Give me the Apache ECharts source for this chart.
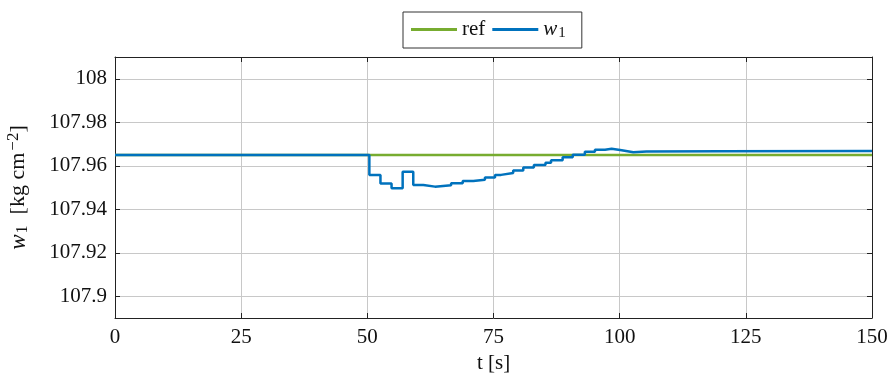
<!DOCTYPE html>
<html><head><meta charset="utf-8">
<script src="https://cdn.jsdelivr.net/npm/echarts@6/dist/echarts.min.js"></script>
<style>html,body{margin:0;padding:0;background:#fff}#c{width:890px;height:375px}</style>
</head><body><div id="c"></div>
<script>
const times = [0, 50.4, 52.6, 54.8, 57.0, 59.1, 61.1, 63.4, 66.6, 68.9, 71.0, 73.3, 75.3, 76.5, 78.9, 80.9, 83.0, 85.3, 86.4, 88.7, 90.7, 93.1, 95.1, 97.1, 98.4, 100.4, 102.7, 105.3, 120.2, 150];
const w1 = [107.965, 107.9558, 107.9518, 107.9496, 107.9572, 107.9512, 107.9504, 107.9510, 107.9520, 107.9530, 107.9536, 107.9546, 107.9558, 107.9567, 107.9578, 107.9592, 107.9603, 107.9614, 107.9625, 107.9639, 107.9651, 107.9664, 107.9674, 107.9678, 107.9671, 107.9662, 107.9665, 107.9667, 107.9668, 107.9668];
const refTimes = [0, 150];
const refValues = [107.965, 107.965];
const yTicks = [107.9, 107.92, 107.94, 107.96, 107.98, 108];
const xTicks = [0, 25, 50, 75, 100, 125, 150];

const FONT = 'Liberation Serif';
const FS = 21;
const chart = echarts.init(document.getElementById('c'));
const axisCommon = {
  axisLine: {show: true, onZero: false, lineStyle: {color: '#222', width: 1}},
  axisTick: {show: true, inside: true, length: 5, lineStyle: {color: '#222'}},
};
chart.setOption({
  animation: false,
  backgroundColor: '#fff',
  grid: {left: 115, right: 18, top: 57, bottom: 57, outerBoundsMode: 'none', containLabel: false},
  legend: {
    left: 403, top: 12, orient: 'horizontal',
    borderColor: '#333', borderWidth: 1, padding: [7, 16, 7, 8],
    itemWidth: 46, itemHeight: 3, itemGap: 7,
    icon: 'rect',
    textStyle: {fontFamily: FONT, fontSize: FS, color: '#111',
      rich: {i: {fontFamily: FONT, fontStyle: 'italic', fontSize: FS}, s: {fontFamily: FONT, fontSize: 15, padding: [8, 0, 0, 1]}}},
    formatter: function (n) { return n === 'w1' ? '{i|w}{s|1}' : n; },
    data: ['ref', 'w1']
  },
  xAxis: [{
    type: 'value', min: 0, max: 150, interval: 25, position: 'bottom',
    ...axisCommon,
    axisLabel: {fontFamily: FONT, fontSize: FS, color: '#111', margin: 9},
    splitLine: {show: true, lineStyle: {color: '#c8c8c8', width: 1}},
    name: 't [s]', nameLocation: 'middle', nameGap: 33,
    nameTextStyle: {fontFamily: FONT, fontSize: FS, color: '#111'}
  }, {
    type: 'value', min: 0, max: 150, interval: 25, position: 'top',
    ...axisCommon, axisLabel: {show: false}, splitLine: {show: false}
  }],
  yAxis: [{
    type: 'value', min: 107.89, max: 108.01, position: 'left',
    ...axisCommon,
    axisTick: {show: true, inside: true, length: 5, lineStyle: {color: '#222'}, customValues: yTicks},
    axisLabel: {fontFamily: FONT, fontSize: FS, color: '#111', margin: 8, customValues: yTicks,
      formatter: v => String(+v.toFixed(2))},
    splitLine: {show: true, lineStyle: {color: '#c8c8c8', width: 1}},
    name: '{i|w}{s|1}  [kg cm{p|−2}]', nameLocation: 'middle', nameGap: 83,
    nameTextStyle: {fontFamily: FONT, fontSize: 22, color: '#111',
      rich: {i: {fontFamily: FONT, fontStyle: 'italic', fontSize: 23}, s: {fontFamily: FONT, fontSize: 16, padding: [9, 0, 0, 1]},
             p: {fontFamily: FONT, fontSize: 17, padding: [0, 0, 10, 2]}}}
  }, {
    type: 'value', min: 107.89, max: 108.01, position: 'right',
    ...axisCommon,
    axisTick: {show: true, inside: true, length: 5, lineStyle: {color: '#222'}, customValues: yTicks},
    axisLabel: {show: false}, splitLine: {show: false}
  }],
  series: [{
    name: 'ref', type: 'line', showSymbol: false, symbol: 'none',
    data: refTimes.map((t, i) => [t, refValues[i]]),
    lineStyle: {color: '#77AC30', width: 2.5}, itemStyle: {color: '#77AC30'}
  }, {
    name: 'w1', type: 'line', step: 'end', showSymbol: false, symbol: 'none',
    data: times.map((t, i) => [t, w1[i]]),
    lineStyle: {color: '#0072BD', width: 2.5}, itemStyle: {color: '#0072BD'}
  }]
});
</script></body></html>
